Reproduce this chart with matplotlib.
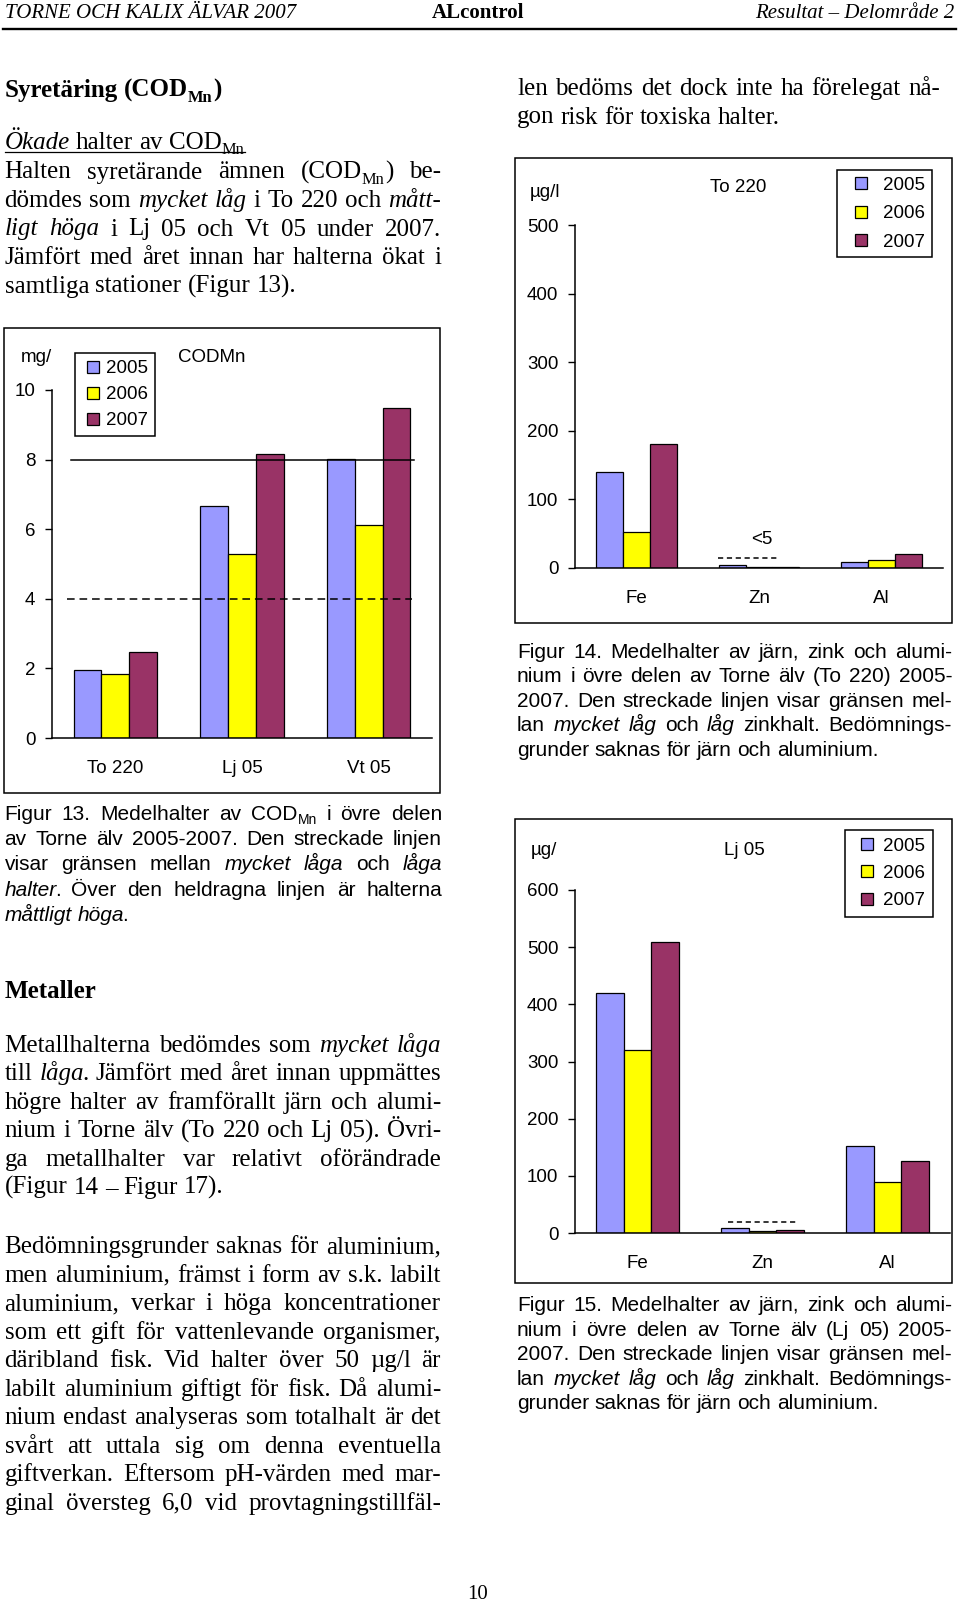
import matplotlib
matplotlib.use('Agg')
import matplotlib.pyplot as plt
from matplotlib.patches import Rectangle
from matplotlib.lines import Line2D
from matplotlib.font_manager import FontProperties
import numpy as np

W, H = 960, 1603

# ---- data ----
years = ['2005', '2006', '2007']
year_colors = ['#9999FF', '#FFFF00', '#993366']

cod_stations = ['To 220', 'Lj 05', 'Vt 05']
cod_2005 = [1.95, 6.67, 8.03]
cod_2006 = [1.85, 5.30, 6.11]
cod_2007 = [2.47, 8.15, 9.49]
cod_low_limit = 4    # dashed line
cod_high_limit = 8   # solid line
cod_ticks = [0, 2, 4, 6, 8, 10]

metals = ['Fe', 'Zn', 'Al']
to220_2005 = [140, 5, 9]
to220_2006 = [52, 2, 11]
to220_2007 = [181, 2, 20]
to220_zn_limit = 14
to220_ticks = [0, 100, 200, 300, 400, 500]

lj05_2005 = [420, 8, 153]
lj05_2006 = [320, 3, 90]
lj05_2007 = [509, 5, 126]
lj05_zn_limit = 20
lj05_ticks = [0, 100, 200, 300, 400, 500, 600]

SERIF = 'Liberation Serif'
SANS = 'Liberation Sans'
BODY = 18      # pt, Times 12 in the document
CAP = 15       # pt, Arial 10 in the document
CHART = 13.5

fig = plt.figure(figsize=(W / 100, H / 100), dpi=100)
renderer = fig.canvas.get_renderer()


def fx(x):
    return x / W


def fy(y):
    return 1 - y / H


def props(st, family, size):
    kw = dict(family=family, size=size)
    if 'i' in st:
        kw['style'] = 'italic'
    if 'b' in st:
        kw['weight'] = 'bold'
    if 's' in st:
        kw['size'] = size * 0.66
    return kw


def width(s, kw):
    fp = FontProperties(**kw)
    w, h, d = renderer.get_text_width_height_descent(s, fp, ismath=False)
    return w


def put_line(y, parts, x0, x1=None, family=SERIF, size=BODY, underline=False):
    # parts: list of (text, style); x1 given -> justified line
    words = [[]]
    for s, st in parts:
        for k, c in enumerate(s.split(' ')):
            if k > 0:
                words.append([])
            if c:
                words[-1].append((c, st))
    words = [w for w in words if w]
    ws = []
    for w in words:
        wl = []
        for n, (c, st) in enumerate(w):
            cw = width(c, props(st, family, size))
            # italic followed by upright piece: pull the next piece in a bit
            if 'i' in st and n + 1 < len(w) and 'i' not in w[n + 1][1]:
                cw -= 0.1 * size * 100 / 72
            wl.append(cw)
        ws.append(wl)
    total = sum(sum(w) for w in ws)
    if x1 is not None and len(words) > 1:
        gap = (x1 - x0 - total) / (len(words) - 1)
    else:
        kw = props('', family, size)
        gap = width('a a', kw) - width('aa', kw)
    x = x0
    for w, wl in zip(words, ws):
        for (c, st), cw in zip(w, wl):
            dy = 0.2 * size * 100 / 72 if 's' in st else 0
            fig.text(fx(x), fy(y + dy), c, ha='left', va='baseline',
                     fontproperties=FontProperties(**props(st, family, size)))
            x += cw
        x += gap
    if underline:
        fig.add_artist(Line2D([fx(x0), fx(x - gap)], [fy(y + 3)] * 2,
                              color='black', lw=0.9))


def paragraph(y0, step, lines, x0, x1, family=SERIF, size=BODY):
    for i, (parts, just) in enumerate(lines):
        put_line(y0 + i * step, parts, x0, x1 if just else None, family, size)


def box(x0, y0, x1, y1):
    fig.add_artist(Rectangle((fx(x0), fy(y1)), (x1 - x0) / W, (y1 - y0) / H,
                             transform=fig.transFigure, fill=False,
                             ec='black', lw=1.1))


def bar_chart(l, r, t, b, cats, series, ymax, ticks, leg_xy, leg_kw):
    ax = fig.add_axes([fx(l), fy(b), (r - l) / W, (b - t) / H])
    ax.patch.set_alpha(0)
    x = np.arange(len(cats))
    bw = 0.22
    for j, vals in enumerate(series):
        ax.bar(x + (j - 1) * bw, vals, bw, color=year_colors[j],
               edgecolor='black', linewidth=0.9, label=years[j], zorder=2)
    ax.set_xlim(-0.5, len(cats) - 0.5)
    ax.set_ylim(0, ymax)
    ax.set_xticks(x)
    ax.set_xticklabels(cats, family=SANS, size=CHART)
    ax.set_yticks(ticks)
    ax.set_yticklabels([str(v) for v in ticks], family=SANS, size=CHART)
    ax.tick_params(axis='x', length=0, pad=15.8)
    ax.tick_params(axis='y', direction='out', length=5, width=1, pad=7)
    for s in ['top', 'right']:
        ax.spines[s].set_visible(False)
    for s in ['left', 'bottom']:
        ax.spines[s].set_linewidth(1.1)
    handles = [Line2D([], [], marker='s', ls='none', markersize=9,
                      markerfacecolor=c, markeredgecolor='black',
                      markeredgewidth=0.9) for c in year_colors]
    ax.legend(handles, years, loc='upper left',
              bbox_to_anchor=(fx(leg_xy[0]), fy(leg_xy[1])),
              bbox_transform=fig.transFigure, borderaxespad=0,
              fancybox=False, edgecolor='black', framealpha=1,
              prop=FontProperties(family=SANS, size=CHART), **leg_kw)
    ax.get_legend().get_frame().set_linewidth(1.1)
    return ax


def label(x, y, s, size=CHART, family=SANS, ha='center'):
    fig.text(fx(x), fy(y), s, ha=ha, va='baseline', family=family, size=size)


# ---- header ----
fig.text(fx(5), fy(18), 'TORNE OCH KALIX ÄLVAR 2007', family=SERIF, style='italic',
         size=15, ha='left', va='baseline')
fig.text(fx(478), fy(18), 'ALcontrol', family=SERIF, weight='bold',
         size=15, ha='center', va='baseline')
fig.text(fx(954), fy(18), 'Resultat – Delområde 2', family=SERIF, style='italic',
         size=15, ha='right', va='baseline')
fig.add_artist(Line2D([fx(3), fx(956)], [fy(29)] * 2, color='black', lw=1.7))

# ---- left column, top ----
put_line(97, [('Syretäring (COD', 'b'), ('Mn', 'bs'), (')', 'b')], 4.5)
put_line(149, [('Ökade', 'i'), (' halter av COD', ''), ('Mn', 's')], 4.5, underline=True)
paragraph(178.5, 28.5, [
    ([('Halten syretärande ämnen (COD', ''), ('Mn', 's'), (') be-', '')], True),
    ([('dömdes som ', ''), ('mycket låg', 'i'), (' i To 220 och ', ''), ('mått-', 'i')], True),
    ([('ligt höga', 'i'), (' i Lj 05 och Vt 05 under 2007.', '')], True),
    ([('Jämfört med året innan har halterna ökat i', '')], True),
    ([('samtliga stationer (Figur 13).', '')], False),
], 4.5, 441)

# ---- right column, top ----
paragraph(95, 28.5, [
    ([('len bedöms det dock inte ha förelegat nå-', '')], True),
    ([('gon risk för toxiska halter.', '')], False),
], 517, 940)

# ---- Figur 13: COD_Mn ----
box(4, 328, 440, 793)
ax1 = bar_chart(52, 432, 390, 738, cod_stations, [cod_2005, cod_2006, cod_2007],
                10, cod_ticks, (75, 353),
                dict(borderpad=0.37, labelspacing=0.48, handlelength=1.15,
                     handletextpad=0.15, handleheight=0.7))
ax1.plot([-0.35, 2.36], [cod_high_limit] * 2, color='black', lw=1.1, zorder=3)
ax1.plot([-0.38, 2.34], [cod_low_limit] * 2, color='black', lw=1.1,
         ls=(0, (5, 3.2)), zorder=3)
label(36, 362, 'mg/')
label(212, 362, 'CODMn')

paragraph(820, 25.2, [
    ([('Figur 13. Medelhalter av COD', ''), ('Mn', 's'), (' i övre delen', '')], True),
    ([('av Torne älv 2005-2007. Den streckade linjen', '')], True),
    ([('visar gränsen mellan ', ''), ('mycket låga', 'i'), (' och ', ''), ('låga', 'i')], True),
    ([('halter', 'i'), ('. Över den heldragna linjen är halterna', '')], True),
    ([('måttligt höga', 'i'), ('.', '')], False),
], 4.5, 442, SANS, CAP)

# ---- Metaller ----
put_line(998, [('Metaller', 'b')], 4.5)
paragraph(1052, 28.4, [
    ([('Metallhalterna bedömdes som ', ''), ('mycket låga', 'i')], True),
    ([('till ', ''), ('låga', 'i'), ('. Jämfört med året innan uppmättes', '')], True),
    ([('högre halter av framförallt järn och alumi-', '')], True),
    ([('nium i Torne älv (To 220 och Lj 05). Övri-', '')], True),
    ([('ga metallhalter var relativt oförändrade', '')], True),
    ([('(Figur 14 – Figur 17).', '')], False),
], 4.5, 441)

paragraph(1253, 28.55, [
    ([('Bedömningsgrunder saknas för aluminium,', '')], True),
    ([('men aluminium, främst i form av s.k. labilt', '')], True),
    ([('aluminium, verkar i höga koncentrationer', '')], True),
    ([('som ett gift för vattenlevande organismer,', '')], True),
    ([('däribland fisk. Vid halter över 50 µg/l är', '')], True),
    ([('labilt aluminium giftigt för fisk. Då alumi-', '')], True),
    ([('nium endast analyseras som totalhalt är det', '')], True),
    ([('svårt att uttala sig om denna eventuella', '')], True),
    ([('giftverkan. Eftersom pH-värden med mar-', '')], True),
    ([('ginal översteg 6,0 vid provtagningstillfäl-', '')], True),
], 4.5, 441)

# ---- Figur 14: To 220 metals ----
box(515, 158, 952, 623)
ax2 = bar_chart(575, 943, 225, 568, metals, [to220_2005, to220_2006, to220_2007],
                500, to220_ticks, (837, 170),
                dict(borderpad=0.36, labelspacing=0.6, handlelength=1.8,
                     handletextpad=0.3, handleheight=0.7))
ax2.plot([0.665, 1.16], [to220_zn_limit] * 2, color='black', lw=1.1,
         ls=(0, (3.4, 2.4)), zorder=3)
ax2.text(1.02, 41, '<5', family=SANS, size=CHART, ha='center', va='center')
label(545, 197, 'µg/l')
label(738, 192, 'To 220')

paragraph(658, 24.4, [
    ([('Figur 14. Medelhalter av järn, zink och alumi-', '')], True),
    ([('nium i övre delen av Torne älv (To 220) 2005-', '')], True),
    ([('2007. Den streckade linjen visar gränsen mel-', '')], True),
    ([('lan ', ''), ('mycket låg', 'i'), (' och ', ''), ('låg', 'i'), (' zinkhalt. Bedömnings-', '')], True),
    ([('grunder saknas för järn och aluminium.', '')], False),
], 517, 952, SANS, CAP)

# ---- Figur 15: Lj 05 metals ----
box(515, 819, 952, 1283)
ax3 = bar_chart(575, 950, 890, 1233, metals, [lj05_2005, lj05_2006, lj05_2007],
                600, lj05_ticks, (845, 830),
                dict(borderpad=0.4, labelspacing=0.54, handlelength=1.5,
                     handletextpad=0.15, handleheight=0.7))
ax3.plot([0.72, 1.28], [lj05_zn_limit] * 2, color='black', lw=1.1,
         ls=(0, (3.4, 2.4)), zorder=3)
label(544, 855, 'µg/')
label(744, 855, 'Lj 05')

paragraph(1311, 24.6, [
    ([('Figur 15. Medelhalter av järn, zink och alumi-', '')], True),
    ([('nium i övre delen av Torne älv (Lj 05) 2005-', '')], True),
    ([('2007. Den streckade linjen visar gränsen mel-', '')], True),
    ([('lan ', ''), ('mycket låg', 'i'), (' och ', ''), ('låg', 'i'), (' zinkhalt. Bedömnings-', '')], True),
    ([('grunder saknas för järn och aluminium.', '')], False),
], 517, 952, SANS, CAP)

# ---- page number ----
fig.text(fx(478), fy(1599), '10', family=SERIF, size=15, ha='center', va='baseline')

fig.savefig('out.png', dpi=100)
